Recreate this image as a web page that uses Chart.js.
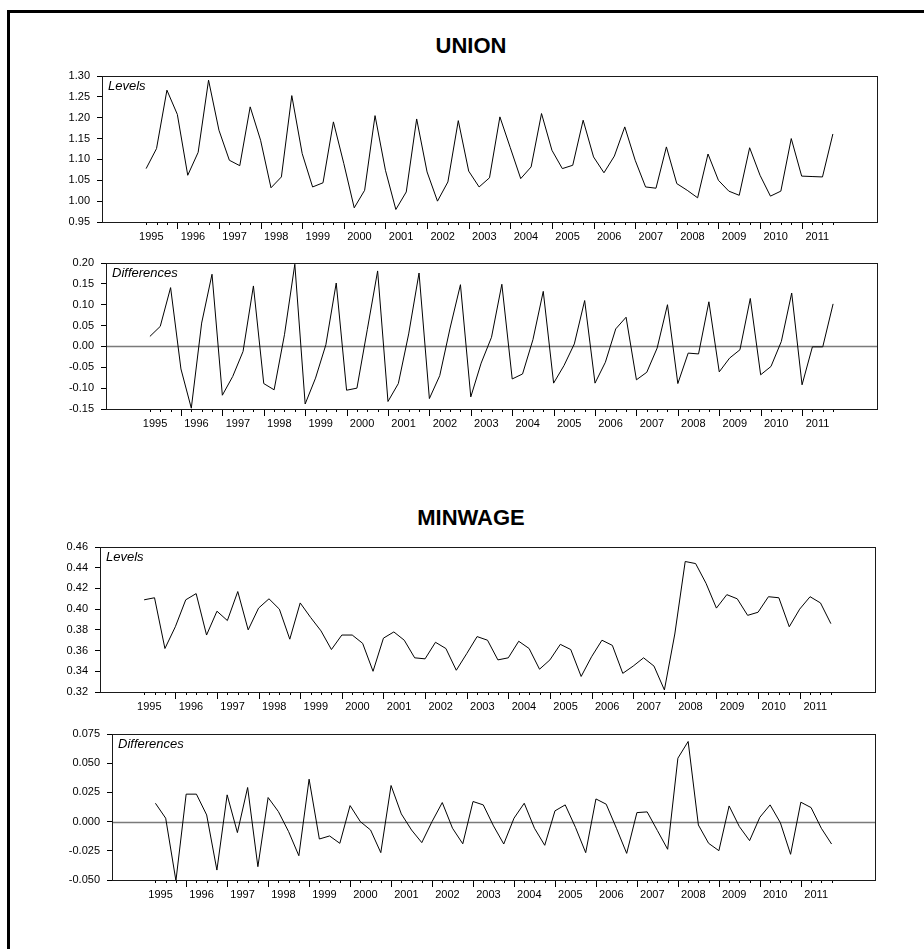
<!DOCTYPE html>
<html>
<head>
<meta charset="utf-8">
<script src="https://cdn.jsdelivr.net/npm/chart.js@4.4.1/dist/chart.umd.min.js"></script>
<style>
    html, body { margin: 0; padding: 0; background: #fff; width: 924px; height: 949px; overflow: hidden; }
    .frame { position: absolute; left: 7px; top: 10px; width: 2000px; height: 2000px; border: 3px solid #000; }
    .title { position: absolute; left: 321px; width: 300px; text-align: center; color: #000;
             font: bold 22px 'Liberation Sans', Arial, sans-serif; line-height: 22px; }
    canvas { position: absolute; left: 0; }
</style>
</head>
<body>
<div class="frame"></div>
<div class="title" style="top:35px">UNION</div>
<div class="title" style="top:507px">MINWAGE</div>
<canvas id="unionLevels"></canvas>
<canvas id="unionDiffs"></canvas>
<canvas id="minwageLevels"></canvas>
<canvas id="minwageDiffs"></canvas>
<script>
// Quarterly sample 1995Q2 - 2011Q4
const yearLabels = ['1995', '1996', '1997', '1998', '1999', '2000', '2001', '2002', '2003',
    '2004', '2005', '2006', '2007', '2008', '2009', '2010', '2011'];
const sampleStart = { year: 1995, q: 2 };
const sampleEnd = { year: 2011, q: 4 };

const unionLevels = [1.078, 1.126, 1.266, 1.208, 1.062, 1.117, 1.290, 1.170, 1.098, 1.085,
    1.226, 1.146, 1.032, 1.058, 1.253, 1.114, 1.034, 1.044, 1.190, 1.090, 0.984, 1.026,
    1.205, 1.074, 0.980, 1.022, 1.197, 1.070, 1.000, 1.046, 1.193, 1.072, 1.034, 1.056,
    1.202, 1.128, 1.054, 1.082, 1.210, 1.122, 1.078, 1.086, 1.194, 1.106, 1.068, 1.108,
    1.178, 1.098, 1.034, 1.031, 1.130, 1.042, 1.026, 1.008, 1.113, 1.050, 1.024, 1.014,
    1.128, 1.062, 1.012, 1.024, 1.150, 1.060, 1.059, 1.058, 1.161];

const unionDiffs = [0.024, 0.048, 0.141, -0.054, -0.148, 0.056, 0.173, -0.117, -0.072, -0.012,
    0.145, -0.089, -0.104, 0.028, 0.197, -0.138, -0.076, 0.004, 0.152, -0.105, -0.100, 0.040,
    0.181, -0.132, -0.089, 0.030, 0.176, -0.125, -0.070, 0.044, 0.148, -0.121, -0.040, 0.022,
    0.149, -0.078, -0.066, 0.016, 0.132, -0.088, -0.046, 0.006, 0.110, -0.088, -0.038, 0.042,
    0.070, -0.080, -0.062, -0.004, 0.100, -0.089, -0.016, -0.018, 0.107, -0.061, -0.028, -0.008,
    0.115, -0.068, -0.048, 0.012, 0.128, -0.092, -0.001, -0.001, 0.102];

const minwageLevels = [0.409, 0.411, 0.362, 0.383, 0.409, 0.415, 0.375, 0.398, 0.389, 0.417,
    0.380, 0.401, 0.410, 0.400, 0.371, 0.406, 0.392, 0.379, 0.361, 0.375, 0.375, 0.367,
    0.340, 0.372, 0.378, 0.370, 0.353, 0.352, 0.368, 0.362, 0.341, 0.357, 0.3735, 0.370,
    0.351, 0.353, 0.369, 0.362, 0.342, 0.351, 0.366, 0.361, 0.335, 0.354, 0.370, 0.365,
    0.338, 0.345, 0.353, 0.345, 0.322, 0.376, 0.446, 0.444, 0.425, 0.401, 0.414, 0.410,
    0.394, 0.397, 0.412, 0.411, 0.383, 0.400, 0.412, 0.406, 0.386];

const minwageDiffs = [0.0157, 0.0029, -0.0506, 0.0235, 0.0235, 0.0057, -0.0415, 0.0229, -0.0094,
    0.0292, -0.0386, 0.0206, 0.0086, -0.0086, -0.0292, 0.0363, -0.0149, -0.0123, -0.0186,
    0.0137, 0.0000, -0.0072, -0.0266, 0.0309, 0.0066, -0.0072, -0.0180, 0.0000, 0.0163,
    -0.0057, -0.0190, 0.0172, 0.0143, -0.0037, -0.0192, 0.0029, 0.0157, -0.0057, -0.0203,
    0.0092, 0.0143, -0.0049, -0.0266, 0.0194, 0.0149, -0.0057, -0.0272, 0.0077, 0.0083,
    -0.0077, -0.0237, 0.0543, 0.0686, -0.0029, -0.0186, -0.0249, 0.0134, -0.0043, -0.0163,
    0.0037, 0.0143, -0.0009, -0.0280, 0.0166, 0.0120, -0.0057, -0.0192];

const unionLevelTicks = [0.95, 1.00, 1.05, 1.10, 1.15, 1.20, 1.25, 1.30];
const unionDiffTicks = [-0.15, -0.10, -0.05, 0.00, 0.05, 0.10, 0.15, 0.20];
const minwageLevelTicks = [0.32, 0.34, 0.36, 0.38, 0.40, 0.42, 0.44, 0.46];
const minwageDiffTicks = [-0.050, -0.025, 0.000, 0.025, 0.050, 0.075];

const FONT = "'Liberation Sans', Arial, sans-serif";
const PAGE_W = 924;
const PAD_T = 20;   // room above the box for the top tick label
const X_H = 30;     // height reserved for the date axis
const Y_W = 50;     // width reserved for the value axis
const X_MIN = 1994.19;
const X_MAX = 2012.81;

// list of quarters in the sample, as time index
const quarters = [];
for (let y = sampleStart.year; y <= sampleEnd.year; y++) {
    for (let q = 1; q <= 4; q++) {
        if (y === sampleStart.year && q < sampleStart.q) continue;
        if (y === sampleEnd.year && q > sampleEnd.q) continue;
        quarters.push({ t: y + (q - 1) / 4, q: q });
    }
}

const panelPlugin = {
    id: 'panelDecor',
    beforeDatasetsDraw(chart, args, opts) {
        if (!opts.zeroLine) return;
        const { ctx, chartArea: a, scales } = chart;
        const y0 = Math.round(scales.y.getPixelForValue(0)) + 0.5;
        ctx.save();
        ctx.strokeStyle = '#7a7a7a';
        ctx.lineWidth = 1.5;
        ctx.beginPath();
        ctx.moveTo(a.left, y0);
        ctx.lineTo(a.right, y0);
        ctx.stroke();
        ctx.restore();
    },
    afterDraw(chart, args, opts) {
        const { ctx, chartArea: a, scales } = chart;
        ctx.save();
        ctx.strokeStyle = '#000';
        ctx.lineWidth = 1;
        // quarter ticks, longer at the start of each year
        quarters.forEach(item => {
            const px = Math.round(scales.x.getPixelForValue(item.t)) + 0.5;
            const len = item.q === 1 ? 7 : 3;
            ctx.beginPath();
            ctx.moveTo(px, a.bottom);
            ctx.lineTo(px, a.bottom + len);
            ctx.stroke();
        });
        // box
        ctx.strokeStyle = '#1a1a1a';
        ctx.strokeRect(Math.round(a.left) + 0.5, Math.round(a.top) + 0.5,
            Math.round(a.width), Math.round(a.height));
        // series label
        ctx.fillStyle = '#000';
        ctx.font = 'italic 13px ' + FONT;
        ctx.textBaseline = 'middle';
        ctx.textAlign = 'left';
        ctx.fillText(opts.label, a.left + 6, a.top + 10);
        ctx.restore();
    }
};

function drawPanel(id, box, values, yTicks, decimals, label, zeroLine) {
    const canvas = document.getElementById(id);
    canvas.width = PAGE_W;
    canvas.height = box.bottom - box.top + PAD_T + X_H;
    canvas.style.top = (box.top - PAD_T) + 'px';

    new Chart(canvas, {
        type: 'line',
        data: {
            datasets: [{
                data: values.map((v, i) => ({ x: quarters[i].t, y: v })),
                borderColor: '#000',
                borderWidth: 1,
                pointRadius: 0,
                tension: 0,
                fill: false
            }]
        },
        options: {
            responsive: false,
            animation: false,
            devicePixelRatio: 1,
            layout: { padding: { left: box.left - Y_W, right: PAGE_W - box.right, top: PAD_T, bottom: 0 } },
            plugins: {
                legend: { display: false },
                tooltip: { enabled: false },
                panelDecor: { label: label, zeroLine: zeroLine }
            },
            scales: {
                x: {
                    type: 'linear',
                    min: X_MIN,
                    max: X_MAX,
                    afterFit: s => { s.height = X_H; },
                    afterBuildTicks: s => { s.ticks = yearLabels.map(y => ({ value: +y + 0.375 })); },
                    ticks: {
                        callback: v => String(Math.floor(v)),
                        autoSkip: false,
                        maxRotation: 0,
                        padding: 8,
                        color: '#000',
                        font: { family: FONT, size: 11 }
                    },
                    grid: { display: false, drawTicks: false },
                    border: { display: false }
                },
                y: {
                    min: yTicks[0],
                    max: yTicks[yTicks.length - 1],
                    afterFit: s => { s.width = Y_W; },
                    afterBuildTicks: s => { s.ticks = yTicks.map(v => ({ value: v })); },
                    ticks: {
                        callback: v => Number(v).toFixed(decimals),
                        padding: 7,
                        color: '#000',
                        font: { family: FONT, size: 11 }
                    },
                    grid: { drawOnChartArea: false, drawTicks: true, tickLength: 5, color: '#000' },
                    border: { display: false }
                }
            }
        },
        plugins: [panelPlugin]
    });
}

drawPanel('unionLevels', { left: 102, right: 877, top: 76, bottom: 222 },
    unionLevels, unionLevelTicks, 2, 'Levels', false);
drawPanel('unionDiffs', { left: 106, right: 877, top: 263, bottom: 409 },
    unionDiffs, unionDiffTicks, 2, 'Differences', true);
drawPanel('minwageLevels', { left: 100, right: 875, top: 547, bottom: 692 },
    minwageLevels, minwageLevelTicks, 2, 'Levels', false);
drawPanel('minwageDiffs', { left: 112, right: 875, top: 734, bottom: 880 },
    minwageDiffs, minwageDiffTicks, 3, 'Differences', true);
</script>
</body>
</html>
